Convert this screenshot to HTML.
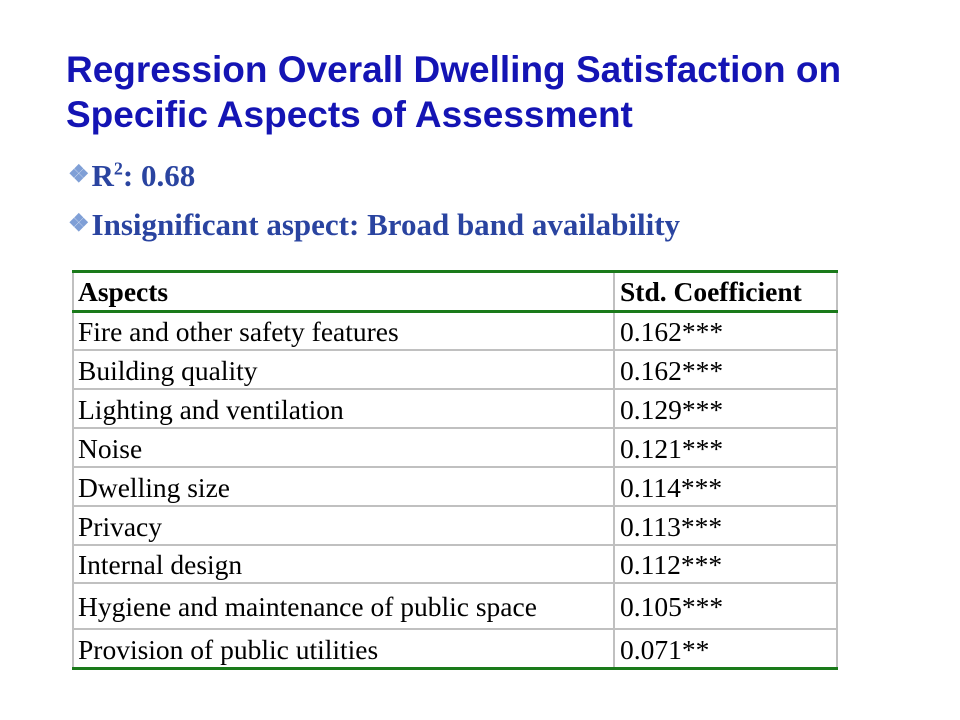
<!DOCTYPE html>
<html><head><meta charset="utf-8"><style>
body{margin:0;width:960px;height:720px;background:#fff;position:relative;overflow:hidden}
.t{position:absolute;left:66px;font:bold 37px "Liberation Sans",sans-serif;color:#1414b4;white-space:nowrap;line-height:44px}
.b{position:absolute;left:68px;font:bold 31px "Liberation Serif",serif;color:#2a44a0;white-space:nowrap}
.b .d{color:#7f9fd6;font-size:24px;vertical-align:4px;margin-right:2px}
.tbl{position:absolute;left:72px;top:271px;width:766px;height:397px}
.hl{position:absolute;left:0;width:766px;height:2px;background:#c0c0c0}
.g{background:#1a7a1a;height:3px}
.vl{position:absolute;top:0;height:397px;width:2px;background:#c0c0c0}
.c{position:absolute;font:27.5px "Liberation Serif",serif;color:#000;white-space:nowrap;line-height:30px}
</style></head><body>
<div class="t" style="top:48px">Regression Overall Dwelling Satisfaction on</div>
<div class="t" style="top:93px">Specific Aspects of Assessment</div>
<div class="b" style="top:158px"><span class="d">❖</span>R<sup style="font-size:18px">2</sup>: 0.68</div>
<div class="b" style="top:207px"><span class="d">❖</span>Insignificant aspect: Broad band availability</div>
<div class="tbl" id="tbl">
<div class="vl" style="left:0"></div><div class="vl" style="left:541px"></div><div class="vl" style="left:764px"></div>
</div>
<script>
const aspects=["Fire and other safety features","Building quality","Lighting and ventilation","Noise","Dwelling size","Privacy","Internal design","Hygiene and maintenance of public space","Provision of public utilities"];
const coefs=["0.162***","0.162***","0.129***","0.121***","0.114***","0.113***","0.112***","0.105***","0.071**"];
const lines=[0,40,79,118,157,196,235,274,312,358,397];
const t=document.getElementById('tbl');
lines.forEach((y,i)=>{const d=document.createElement('div');


const green=(i===0||i===1||i===lines.length-1);
d.className='hl'+(green?' g':'');d.style.top=(y-1)+'px';t.appendChild(d);});
function cell(txt,x,y,h,bold,name){const d=document.createElement('div');


d.className='c';d.textContent=txt;d.style.left=x+'px';d.style.top=(y+(h-30)/2+1)+'px';if(bold){d.style.fontWeight='bold';}t.appendChild(d);}
cell('Aspects',6,0,40,true,'header-aspects');
cell('Std. Coefficient',548,0,40,true,'header-coefficient');
aspects.forEach((a,i)=>{const y=lines[i+1],h=lines[i+2]-lines[i+1];
cell(a,6,y,h,false,'aspect-cell');
cell(coefs[i],548,y,h,false,'coefficient-cell');});
</script>
</body></html>
